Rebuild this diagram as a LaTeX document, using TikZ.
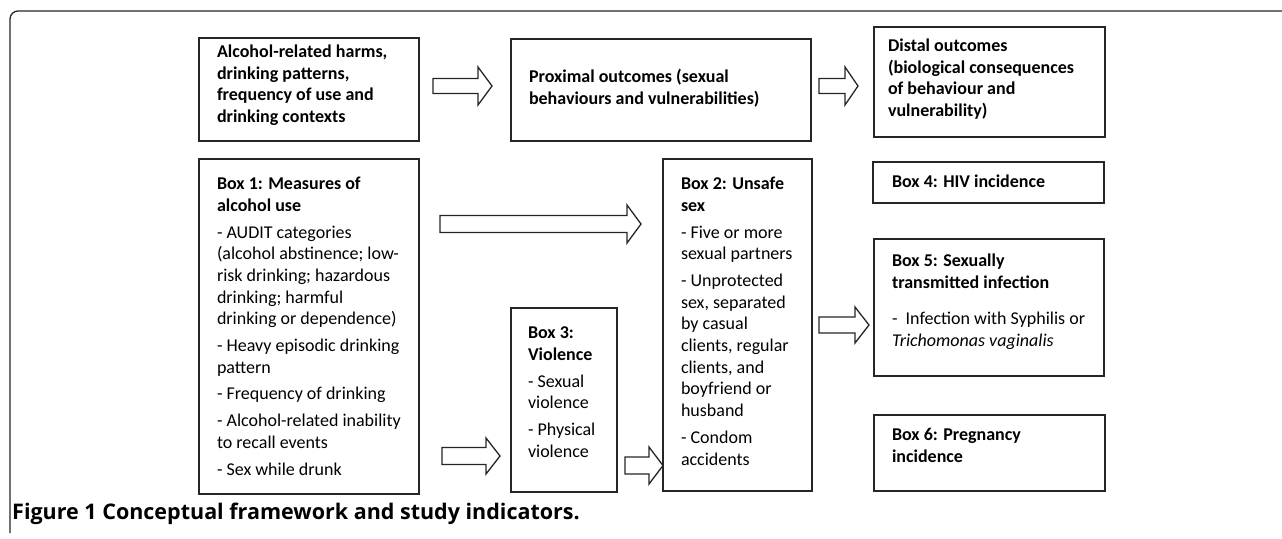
\documentclass[tikz,border=0pt]{standalone}
\usepackage{fontspec}
\setmainfont{Carlito}
\newfontfamily\capfont{Open Sans}
\usetikzlibrary{calc}
\newcommand{\np}{\par\vspace{5pt}}
\newcommand{\boxtxt}[5]{%
\begin{minipage}[t][#2pt][t]{#1pt}\fontsize{18}{21.7}\selectfont\raggedright\leftskip=#3pt\relax\parskip=0pt\relax\parindent=0pt\relax
\vspace*{#4pt}\strut\ignorespaces #5\par\end{minipage}}
\newcommand{\barr}[5]{%
\draw[blockarrow] let \p1=(#1), \p2=(#2) in
(\x1,{\y1+#3pt}) -- ({\x2-#5pt},{\y1+#3pt}) -- ({\x2-#5pt},{\y1+#4pt}) -- (\x2,\y1)
-- ({\x2-#5pt},{\y1-#4pt}) -- ({\x2-#5pt},{\y1-#3pt}) -- (\x1,{\y1-#3pt}) -- cycle;}
\tikzset{
  box/.style={draw=black!85, line width=1.7pt, inner sep=0pt, outer sep=0pt, anchor=north west},
  blockarrow/.style={draw=black!85, fill=white, line width=1.3pt, line join=miter},
  frame/.style={draw=black!85, line width=1.3pt, rounded corners=8pt},
  captext/.style={anchor=base west, inner sep=0pt, font=\capfont\bfseries\fontsize{21.5}{24}\selectfont}
}
\begin{document}
\begin{tikzpicture}[x=1pt,y=-1pt]
\useasboundingbox (0,0) rectangle (1282,538);
\draw[frame] (10,533) -- (10,11) -- (1282,11);

\node[box] (A) at (199,38) {\boxtxt{220}{103}{18}{4.3}{\textbf{Alcohol-related harms,\\ drinking patterns,\\ frequency of use and\\ drinking contexts}}};
\node[box] (B) at (511,39) {\boxtxt{300}{102}{18}{28.3}{\textbf{Proximal outcomes (sexual\\ behaviours and vulnerabilities)}}};
\node[box] (C) at (874,27) {\boxtxt{231}{110}{14}{9.3}{\textbf{Distal outcomes\\ (biological consequences\\ of behaviour and\\ vulnerability)}}};

\node[box] (b1) at (199,159) {\boxtxt{220}{335}{18}{15.5}{\textbf{Box 1: Measures of\\ alcohol use}\np - AUDIT categories\\ (alcohol abstinence; low-\\ risk drinking; hazardous\\ drinking; harmful\\ drinking or dependence)\np - Heavy episodic drinking\\ pattern\np - Frequency of drinking\np - Alcohol-related inability\\ to recall events\np - Sex while drunk}};
\node[box] (b2) at (663,159) {\boxtxt{149}{332}{18}{15.5}{\textbf{Box 2: Unsafe\\ sex}\np - Five or more\\ sexual partners\np - Unprotected\\ sex, separated\\ by casual\\ clients, regular\\ clients, and\\ boyfriend or\\ husband\np - Condom\\ accidents}};
\node[box] (b3) at (511,308) {\boxtxt{106}{184}{17}{15.5}{\textbf{Box 3:\\ Violence}\np - Sexual\\ violence\np - Physical\\ violence}};
\node[box] (b4) at (873,162) {\boxtxt{231}{41}{19}{10.5}{\textbf{Box 4: HIV incidence}}};
\node[box] (b5) at (874,239) {\boxtxt{230}{137}{18}{12.5}{\textbf{Box 5: Sexually\\ transmitted infection}\par\vspace{14.6pt}-\ \ Infection with Syphilis or\\ \textit{Trichomonas vaginalis}}};
\node[box] (b6) at (874,415) {\boxtxt{231}{76}{18}{10.5}{\textbf{Box 6: Pregnancy\\ incidence}}};

\coordinate (a1s) at ($(A.north east)+(14,48)$);
\coordinate (a1t) at ($(B.north west)+(-19,47)$);
\coordinate (a2s) at ($(B.north east)+(8,47)$);
\coordinate (a2t) at ($(C.north west)+(-16,59)$);
\coordinate (a3s) at ($(b1.north east)+(21,65)$);
\coordinate (a3t) at ($(b2.north west)+(-22,65)$);
\coordinate (a4s) at ($(b1.south east)+(23,-38)$);
\coordinate (a4t) at ($(b3.north west)+(-11,148)$);
\coordinate (a5s) at ($(b3.north east)+(8,157.5)$);
\coordinate (a5t) at ($(b2.north west)+(0,306.5)$);
\coordinate (a6s) at ($(b2.north east)+(7,166)$);
\coordinate (a6t) at ($(b5.north west)+(-5,86)$);

\barr{a1s}{a1t}{7.5}{19}{14}
\barr{a2s}{a2t}{7.5}{19}{13}
\barr{a3s}{a3t}{8.5}{19}{14}
\barr{a4s}{a4t}{8.5}{18}{14}
\barr{a5s}{a5t}{8.5}{18.5}{14}
\barr{a6s}{a6t}{8}{18}{14}

\node[captext] (cap) at (12,519) {Figure 1 Conceptual framework and study indicators.};
\end{tikzpicture}
\end{document}
